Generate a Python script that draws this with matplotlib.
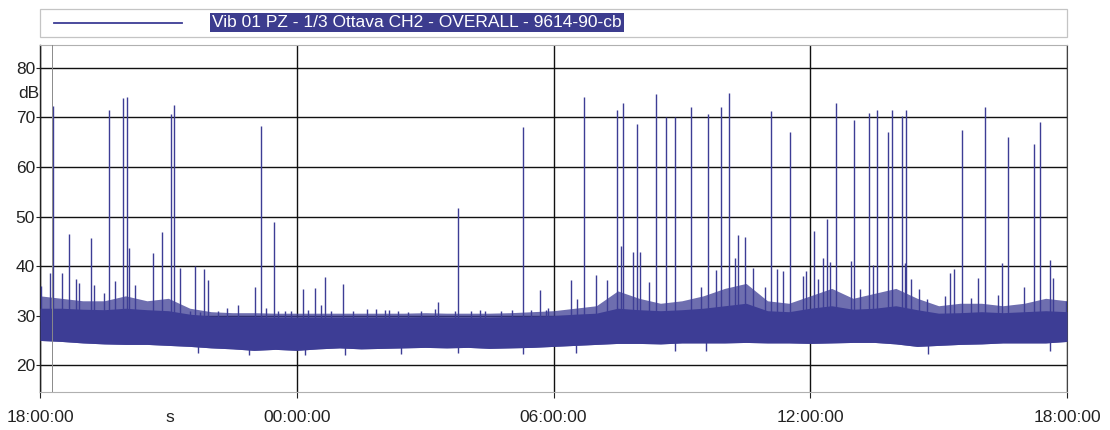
import matplotlib
matplotlib.use("Agg")
import matplotlib.pyplot as plt
from matplotlib.patches import Rectangle
from matplotlib.lines import Line2D

plt.rcParams['font.family'] = ['Liberation Sans', 'DejaVu Sans']

# ---------------- data (hours after 18:00:00, dB) ----------------
band_hours = [0.0, 0.5, 1.0, 1.5, 2.0, 2.5, 3.0, 3.5, 4.0, 4.5, 5.0, 5.5,
              6.0, 6.5, 7.0, 7.5, 8.0, 8.5, 9.0, 9.5, 10.0, 10.5, 11.0, 11.5,
              12.0, 12.5, 13.0, 13.5, 14.0, 14.5, 15.0, 15.5, 16.0, 16.5, 17.0, 17.5,
              18.0, 18.5, 19.0, 19.5, 20.0, 20.5, 21.0, 21.5, 22.0, 22.5, 23.0, 23.5, 24.0]
band_low = [25.0, 24.8, 24.5, 24.3, 24.2, 24.2, 24.0, 23.8, 23.5, 23.3, 23.0, 23.2,
            23.0, 23.3, 23.5, 23.3, 23.4, 23.5, 23.6, 23.5, 23.6, 23.4, 23.5, 23.6,
            23.8, 24.0, 24.2, 24.4, 24.4, 24.3, 24.5, 24.5, 24.5, 24.6, 24.5, 24.5,
            24.4, 24.5, 24.6, 24.6, 24.3, 23.8, 24.0, 24.2, 24.3, 24.5, 24.5, 24.5, 24.8]
band_core = [31.5, 31.5, 31.3, 31.2, 31.5, 31.2, 31.0, 30.3, 29.9, 29.8, 29.8, 29.7,
             29.7, 29.7, 29.7, 29.7, 29.7, 29.7, 29.8, 29.7, 29.7, 29.7, 29.8, 29.9,
             30.0, 30.3, 30.5, 31.5, 31.2, 31.0, 31.2, 31.5, 32.0, 32.5, 31.0, 30.8,
             31.5, 32.0, 31.3, 31.5, 32.0, 31.2, 30.5, 30.6, 30.8, 30.6, 30.8, 31.0, 30.8]
band_fringe = [34.0, 33.5, 33.0, 33.0, 34.0, 33.0, 33.5, 31.5, 30.8, 30.6, 30.6, 30.5,
               30.5, 30.5, 30.5, 30.5, 30.5, 30.5, 30.6, 30.5, 30.5, 30.5, 30.6, 30.8,
               31.0, 31.5, 32.0, 35.0, 33.5, 32.5, 33.0, 34.0, 35.5, 36.5, 33.0, 32.5,
               34.0, 35.5, 33.5, 34.5, 35.5, 33.5, 32.0, 32.5, 32.5, 32.0, 32.5, 33.5, 33.0]

spike_hours = [0.03, 0.23, 0.30, 0.51, 0.68, 0.83, 0.91, 1.19, 1.26, 1.49, 1.61, 1.76,
               1.93, 2.04, 2.07, 2.23, 2.64, 2.86, 3.05, 3.13, 3.27, 3.62, 3.83, 3.93,
               4.63, 5.03, 5.16, 5.48, 6.15, 6.43, 6.65, 7.08, 9.29, 9.77, 11.29, 11.69,
               11.83, 12.40, 12.54, 12.72, 13.00, 13.24, 13.49, 13.57, 13.62, 13.86, 13.96, 14.02,
               14.23, 14.39, 14.62, 14.84, 15.22, 15.45, 15.61, 15.79, 15.92, 16.10, 16.23, 16.32,
               16.48, 16.67, 16.95, 17.09, 17.22, 17.37, 17.53, 17.83, 17.91, 18.09, 18.17, 18.30,
               18.38, 18.46, 18.61, 18.96, 19.03, 19.17, 19.37, 19.47, 19.55, 19.82, 19.91, 20.15,
               20.21, 20.23, 20.35, 20.55, 20.73, 21.15, 21.27, 21.36, 21.54, 21.75, 21.92, 22.09,
               22.39, 22.49, 22.63, 23.00, 23.23, 23.38, 23.61, 23.68, 23.98]
spike_db = [35.9, 38.6, 72.2, 38.7, 46.5, 37.3, 36.6, 45.7, 36.1, 34.6, 71.5, 36.9,
            73.9, 74.1, 43.7, 36.1, 42.6, 46.8, 70.7, 72.4, 39.6, 40.0, 39.5, 37.1,
            32.2, 35.8, 68.3, 48.9, 35.3, 35.5, 37.7, 36.3, 32.7, 51.7, 68.0, 35.1,
            31.2, 37.1, 33.4, 74.1, 38.3, 37.1, 71.4, 44.1, 72.9, 42.8, 68.7, 42.8,
            36.7, 74.8, 70.1, 70.1, 72.1, 35.8, 70.7, 39.3, 72.0, 74.9, 41.6, 46.3,
            45.8, 39.6, 35.8, 71.3, 39.5, 39.0, 67.0, 37.9, 39.0, 47.0, 37.3, 41.6,
            49.5, 40.8, 73.0, 41.0, 69.4, 35.3, 70.9, 40.3, 71.5, 67.0, 71.5, 70.3,
            40.6, 71.5, 37.3, 35.3, 33.4, 33.9, 38.6, 39.5, 67.4, 33.6, 37.5, 72.0,
            34.2, 40.6, 66.0, 35.8, 64.6, 69.1, 41.2, 37.6, 33.0]

small_hours = [3.50, 3.73, 4.16, 4.38, 5.29, 5.56, 5.72, 5.87, 6.26, 6.56, 6.81, 7.32,
               7.63, 7.86, 8.07, 8.16, 8.37, 8.60, 8.91, 9.23, 9.69, 10.08, 10.28, 10.39,
               10.78, 11.02, 11.48, 11.87]
small_db = [31.0, 30.8, 31.0, 31.6, 31.5, 31.0, 31.0, 31.0, 31.2, 32.2, 31.0, 31.0,
            31.3, 31.3, 31.2, 31.2, 31.0, 30.8, 31.0, 31.3, 30.9, 31.0, 31.2, 31.0,
            31.0, 31.1, 31.2, 31.5]

dip_hours = [3.69, 4.88, 6.19, 7.12, 8.44, 9.77, 11.29, 12.53, 14.84, 15.57, 20.76, 23.60]
dip_db = [22.5, 22.0, 22.0, 22.0, 22.2, 22.5, 22.2, 22.5, 22.8, 22.8, 22.2, 22.8]

cursor_hour = 0.29

x_ticks = [0, 6, 12, 18, 24]
x_tick_labels = ["18:00:00", "00:00:00", "06:00:00", "12:00:00", "18:00:00"]
y_ticks = [20, 30, 40, 50, 60, 70, 80]
legend_label = "Vib 01 PZ - 1/3 Ottava CH2 - OVERALL - 9614-90-cb"

# ---------------- drawing ----------------
W, H = 1110, 430
fig = plt.figure(figsize=(W / 100, H / 100), dpi=100)
ax = fig.add_axes([40 / W, 1 - 392 / H, (1067 - 40) / W, (392 - 45) / H])

blue = '#3d3d95'

ax.fill_between(band_hours, band_low, band_fringe, color=blue, alpha=0.75, lw=0, zorder=2)
ax.fill_between(band_hours, band_low, band_core, color=blue, lw=0, zorder=3)
ax.vlines(spike_hours, 29, spike_db, color=blue, lw=1.0, zorder=4)
ax.vlines(small_hours, 29, small_db, color=blue, lw=1.0, zorder=4)
ax.vlines(dip_hours, dip_db, 26, color=blue, lw=1.0, zorder=4)
ax.axvline(cursor_hour, color='#8a8a8a', lw=0.7, zorder=5)

ax.set_xlim(0, 24)
ax.set_ylim(14.6, 84.6)
ax.set_xticks(x_ticks)
ax.set_xticklabels(x_tick_labels)
ax.set_yticks(y_ticks)
ax.set_yticklabels([str(v) for v in y_ticks])
ax.grid(True, color='#111111', lw=1.0, zorder=1)
ax.set_axisbelow(True)

ax.tick_params(axis='y', length=3, width=0.8, pad=0.5, labelsize=12.5, colors='#222222')
ax.tick_params(axis='x', length=4, width=0.8, pad=9, labelsize=12.5, colors='#222222')

for side in ['top', 'bottom']:
    ax.spines[side].set_color('#b0b0b0')
    ax.spines[side].set_linewidth(0.8)
ax.spines['left'].set_color('#222222')
ax.spines['left'].set_linewidth(1.0)
ax.spines['right'].set_color('#444444')
ax.spines['right'].set_linewidth(0.8)

fig.text(18 / W, 1 - 93 / H, "dB", fontsize=12.5, color='#222222', va='center', ha='left')
fig.text(170 / W, 1 - 417 / H, "s", fontsize=12.5, color='#222222', va='center', ha='center')

# legend box
fig.patches.append(Rectangle((40 / W, 1 - 37 / H), (1067 - 40) / W, 28 / H,
                             transform=fig.transFigure, fill=False,
                             edgecolor='#c4c4c4', lw=0.9))
fig.lines.append(Line2D([54 / W, 182 / W], [1 - 23 / H, 1 - 23 / H],
                        transform=fig.transFigure, color=blue, lw=1.3))
fig.text(212 / W, 1 - 22.5 / H, legend_label, fontsize=12.5, color='white',
         va='center', ha='left',
         bbox=dict(boxstyle='square,pad=0.12', facecolor='#3c3c8e', edgecolor='none'))

fig.savefig("out.png", dpi=100)
